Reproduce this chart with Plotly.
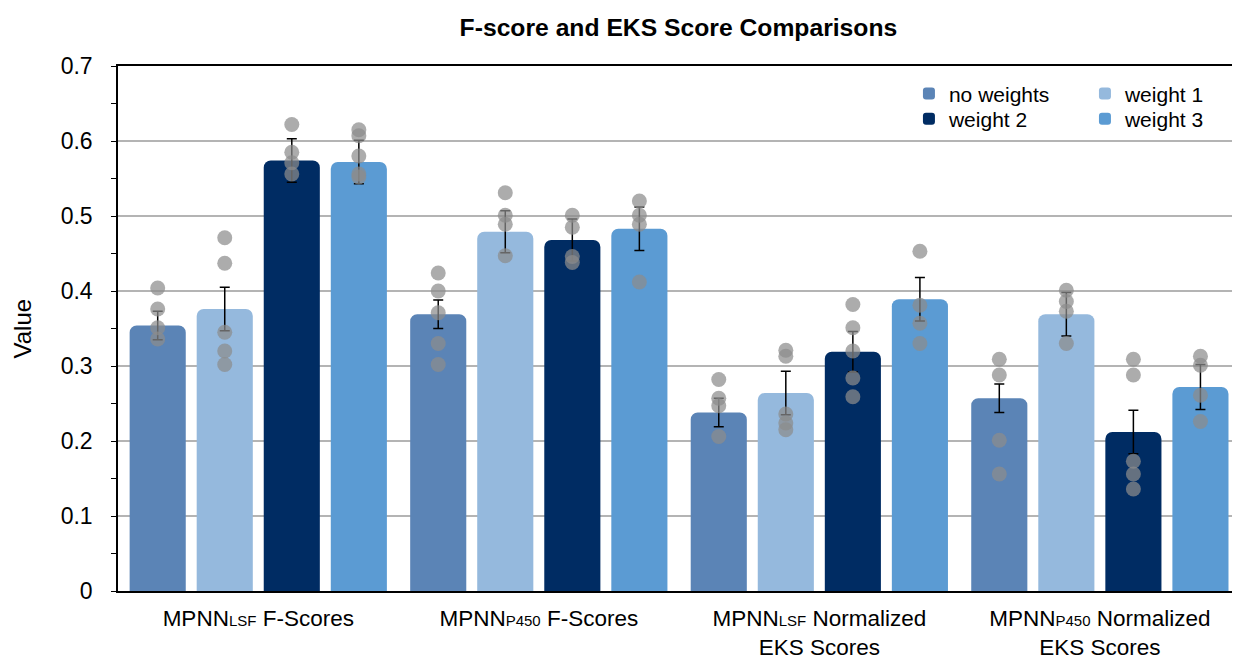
import plotly.graph_objects as go

SUB = '<span style="font-size:15px">{}</span>'

# Category labels (x axis)
groups = [
    "MPNN" + SUB.format("LSF") + " F-Scores",
    "MPNN" + SUB.format("P450") + " F-Scores",
    "MPNN" + SUB.format("LSF") + " Normalized<br>EKS Scores",
    "MPNN" + SUB.format("P450") + " Normalized<br>EKS Scores",
]

# Series names
series_names = ["no weights", "weight 1", "weight 2", "weight 3"]

# Mean values per series (one per group)
no_weights = [0.354, 0.369, 0.238, 0.257]
weight_1 = [0.376, 0.479, 0.264, 0.369]
weight_2 = [0.574, 0.468, 0.319, 0.212]
weight_3 = [0.572, 0.483, 0.389, 0.272]

# Standard errors per series
no_weights_err = [0.019, 0.019, 0.019, 0.019]
weight_1_err = [0.029, 0.028, 0.029, 0.029]
weight_2_err = [0.029, 0.028, 0.027, 0.029]
weight_3_err = [0.029, 0.029, 0.029, 0.030]

# Individual run values per series and group
no_weights_pts = [
    [0.404, 0.376, 0.351, 0.336],
    [0.424, 0.400, 0.371, 0.330, 0.302],
    [0.282, 0.257, 0.247, 0.206],
    [0.309, 0.288, 0.201, 0.156],
]
weight_1_pts = [
    [0.471, 0.437, 0.345, 0.320, 0.302],
    [0.531, 0.501, 0.489, 0.447],
    [0.321, 0.313, 0.236, 0.224, 0.215],
    [0.401, 0.386, 0.373, 0.330],
]
weight_2_pts = [
    [0.622, 0.585, 0.571, 0.556],
    [0.501, 0.485, 0.446, 0.438],
    [0.382, 0.351, 0.320, 0.284, 0.259],
    [0.309, 0.288, 0.173, 0.156, 0.136],
]
weight_3_pts = [
    [0.615, 0.607, 0.580, 0.556, 0.552],
    [0.520, 0.501, 0.489, 0.412],
    [0.453, 0.381, 0.357, 0.330],
    [0.313, 0.301, 0.261, 0.226],
]

colors = ["#5b84b6", "#95b9dd", "#002c63", "#5b9bd3"]

means = [no_weights, weight_1, weight_2, weight_3]
errs = [no_weights_err, weight_1_err, weight_2_err, weight_3_err]
points = [no_weights_pts, weight_1_pts, weight_2_pts, weight_3_pts]

BAR_STEP = 0.239
BAR_WIDTH = 0.2
FONT = "Liberation Sans, Arial, Helvetica, sans-serif"

# Legend laid out as a 2x2 grid: one single-entry legend per cell
legend_ids = ["legend", "legend2", "legend3", "legend4"]
legend_cells = {
    "legend": (0.71, 0.947),    # no weights
    "legend2": (0.868, 0.947),  # weight 1
    "legend3": (0.71, 0.899),   # weight 2
    "legend4": (0.868, 0.899),  # weight 3
}

fig = go.Figure()

for k, name in enumerate(series_names):
    shift = (k - 1.5) * BAR_STEP
    xs = [g + shift for g in range(len(groups))]
    fig.add_trace(go.Bar(
        x=xs,
        y=means[k],
        width=BAR_WIDTH,
        name=name,
        legend=legend_ids[k],
        marker=dict(color=colors[k], line=dict(width=0)),
        error_y=dict(type="data", array=errs[k], visible=True,
                     color="black", thickness=1.5, width=5),
    ))

# Scatter of individual values on top of each bar
for k, name in enumerate(series_names):
    shift = (k - 1.5) * BAR_STEP
    px, py = [], []
    for g, vals in enumerate(points[k]):
        px += [g + shift] * len(vals)
        py += vals
    fig.add_trace(go.Scatter(
        x=px, y=py, mode="markers", showlegend=False,
        marker=dict(size=15, color="rgba(140,140,140,0.72)", line=dict(width=0)),
        hoverinfo="y",
    ))

legend_layout = {
    lid: dict(
        x=pos[0], y=pos[1], xanchor="left", yanchor="middle",
        bgcolor="rgba(0,0,0,0)", font=dict(size=21, family=FONT, color="black"),
    )
    for lid, pos in legend_cells.items()
}

fig.update_layout(
    width=1238,
    height=659,
    margin=dict(l=118, r=6, t=66, b=68, autoexpand=False),
    paper_bgcolor="white",
    plot_bgcolor="white",
    font=dict(family=FONT, color="black"),
    barcornerradius=7,
    title=dict(
        text="<b>F-score and EKS Score Comparisons</b>",
        x=0.548, xref="container", xanchor="center",
        y=1 - 27 / 659, yref="container", yanchor="middle",
        font=dict(size=24.7, family=FONT, color="black"),
    ),
    showlegend=True,
    xaxis=dict(
        range=[-0.5, 3.471],
        tickmode="array",
        tickvals=list(range(len(groups))),
        ticktext=groups,
        ticks="",
        showgrid=False,
        zeroline=False,
        showline=True,
        linecolor="black",
        linewidth=1.5,
        mirror=True,
        automargin=False,
        tickfont=dict(size=22.5, family=FONT, color="black"),
        ticklabelstandoff=6,
    ),
    yaxis=dict(
        range=[0, 0.7],
        dtick=0.1,
        tickformat="~g",
        showgrid=True,
        gridcolor="#b4b4b4",
        gridwidth=2,
        zeroline=False,
        showline=True,
        linecolor="black",
        linewidth=1.5,
        ticks="outside",
        ticklen=5,
        tickcolor="black",
        automargin=False,
        minor=dict(dtick=0.05, ticks="outside", ticklen=5, tickcolor="black", showgrid=False),
        tickfont=dict(size=23, family=FONT, color="black"),
        ticklabelstandoff=14,
    ),
    annotations=[dict(
        text="Value", textangle=-90,
        x=(22 - 118) / 1114, xref="paper", xanchor="center",
        y=0.5, yref="paper", yanchor="middle",
        showarrow=False, font=dict(size=24, family=FONT, color="black"),
    )],
    **legend_layout,
)

fig.write_html("out.html")
